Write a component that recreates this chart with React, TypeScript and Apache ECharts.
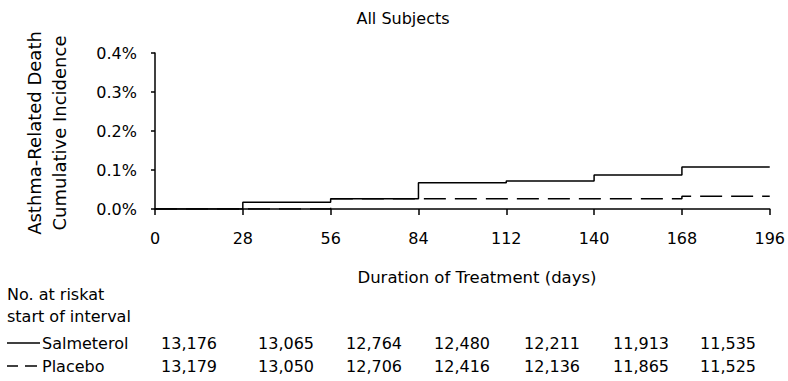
import React, { useEffect, useRef } from "react";
import * as echarts from "echarts";

const days = [0, 28, 56, 84, 112, 140, 168, 196];
const salmeterolPct = [0, 0.017, 0.026, 0.067, 0.072, 0.087, 0.108, 0.108];
const placeboPct = [0, 0, 0.026, 0.026, 0.026, 0.026, 0.033, 0.033];
const yTicks = [0, 0.1, 0.2, 0.3, 0.4];
const atRiskSalmeterol = ["13,176", "13,065", "12,764", "12,480", "12,211", "11,913", "11,535"];
const atRiskPlacebo = ["13,179", "13,050", "12,706", "12,416", "12,136", "11,865", "11,525"];
const columnCenters = [189, 286, 374, 462, 552, 641, 728];

const FONT = "DejaVu Sans";
const FS = 16;

export default function App() {
  const ref = useRef<HTMLDivElement>(null);
  useEffect(() => {
    if (!ref.current) return;
    const chart = echarts.init(ref.current, undefined, { renderer: "svg" });
    const txt = (x: number, y: number, text: string, align = "left", extra: any = {}, fs = FS, lh?: number) => ({
      type: "text",
      x,
      y,
      ...extra,
      style: {
        text,
        fill: "#000",
        font: `${fs}px ${FONT}`,
        align,
        verticalAlign: "middle",
        ...(lh ? { lineHeight: lh } : {}),
      },
    });
    const graphics: any[] = [
      txt(403, 18, "All Subjects", "center"),
      txt(477, 277, "Duration of Treatment (days)", "center", {}, 16.5),
      txt(47, 133, "Asthma-Related Death\nCumulative Incidence", "center", { rotation: Math.PI / 2 }, 18, 25),
      txt(7, 294, "No. at riskat"),
      txt(7, 316, "start of interval"),
      txt(42, 343, "Salmeterol"),
      txt(42, 366, "Placebo"),
      { type: "line", shape: { x1: 7, y1: 343, x2: 40, y2: 343 }, style: { stroke: "#000", lineWidth: 1.5 } },
      { type: "line", shape: { x1: 7, y1: 366, x2: 18, y2: 366 }, style: { stroke: "#000", lineWidth: 1.5 } },
      { type: "line", shape: { x1: 25, y1: 366, x2: 37, y2: 366 }, style: { stroke: "#000", lineWidth: 1.5 } },
    ];
    atRiskSalmeterol.forEach((v, i) => graphics.push(txt(columnCenters[i], 343, v, "center")));
    atRiskPlacebo.forEach((v, i) => graphics.push(txt(columnCenters[i], 366, v, "center")));

    chart.setOption({
      animation: false,
      backgroundColor: "#fff",
      grid: { left: 155, right: 13, top: 53, bottom: 172, containLabel: false },
      xAxis: {
        type: "value",
        min: 0,
        max: 196,
        interval: 28,
        axisLine: { show: true, lineStyle: { color: "#000", width: 1.5 } },
        axisTick: { show: true, length: 6, lineStyle: { color: "#000", width: 1.5 } },
        axisLabel: { color: "#000", fontFamily: FONT, fontSize: FS, margin: 21 },
        splitLine: { show: false },
      },
      yAxis: {
        type: "value",
        min: 0,
        max: 0.4,
        interval: 0.1,
        axisLine: { show: true, lineStyle: { color: "#000", width: 1.5 } },
        axisTick: { show: true, length: 4, lineStyle: { color: "#000", width: 1.5 } },
        axisLabel: {
          color: "#000",
          fontFamily: FONT,
          fontSize: FS,
          margin: 18,
          formatter: (v: number) => (yTicks.includes(Math.round(v * 10) / 10) ? v.toFixed(1) + "%" : ""),
        },
        splitLine: { show: false },
      },
      series: [
        {
          name: "Placebo",
          type: "line",
          step: "end",
          symbol: "none",
          data: days.map((d, i) => [d, placeboPct[i]]),
          lineStyle: { color: "#000", width: 1.5, type: [22, 9] },
          z: 2,
        },
        {
          name: "Salmeterol",
          type: "line",
          step: "end",
          symbol: "none",
          data: days.map((d, i) => [d, salmeterolPct[i]]),
          lineStyle: { color: "#000", width: 1.5 },
          z: 3,
        },
      ],
      graphic: graphics,
    });
    return () => chart.dispose();
  }, []);
  return <div ref={ref} style={{ width: 788, height: 381, position: "absolute", left: 0, top: 0 }} />;
}
